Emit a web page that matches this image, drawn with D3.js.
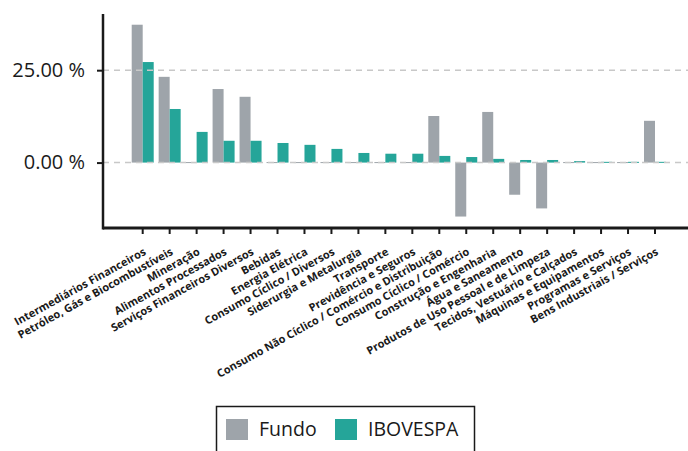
<!DOCTYPE html>
<html>
<head>
<meta charset="utf-8">
<script src="https://cdn.jsdelivr.net/npm/d3@7"></script>
<style>
  body { margin: 0; background: #fff; }
  svg { display: block; font-family: "Open Sans", sans-serif; }
</style>
</head>
<body>
<svg id="chart" width="688" height="451"></svg>
<script>
// sectors
const categories = [
  "Intermediários Financeiros",
  "Petróleo, Gás e Biocombustíveis",
  "Mineração",
  "Alimentos Processados",
  "Serviços Financeiros Diversos",
  "Bebidas",
  "Energia Elétrica",
  "Consumo Cíclico / Diversos",
  "Siderurgia e Metalurgia",
  "Transporte",
  "Previdência e Seguros",
  "Consumo Não Cíclico / Comércio e Distribuição",
  "Consumo Cíclico / Comércio",
  "Construção e Engenharia",
  "Água e Saneamento",
  "Produtos de Uso Pessoal e de Limpeza",
  "Tecidos, Vestuário e Calçados",
  "Máquinas e Equipamentos",
  "Programas e Serviços",
  "Bens Industriais / Serviços"
];

// % values
const fundo = [37.3, 23.2, 0, 19.9, 17.8, 0, 0, 0, 0, 0, 0, 12.6, -14.6, 13.7, -8.7, -12.4, 0, 0, 0, 11.3];
const ibovespa = [27.2, 14.5, 8.3, 5.9, 5.9, 5.3, 4.8, 3.7, 2.6, 2.4, 2.4, 1.8, 1.5, 1.0, 0.7, 0.7, 0.4, 0.2, 0.2, 0.2];

const series = ["Fundo", "IBOVESPA"];
const colors = ["#9ea4aa", "#25a599"];
const yTicks = [0, 25];

const svg = d3.select("#chart");

const x = d3.scaleBand()
  .domain(categories)
  .range([131.7, 666])
  .paddingInner(0.184)
  .paddingOuter(0);

const xSub = d3.scaleBand()
  .domain(series)
  .range([0, x.bandwidth()]);

const y = d3.scaleLinear()
  .domain([-17.7, 40.2])
  .range([228, 14]);

const color = d3.scaleOrdinal().domain(series).range(colors);

const rows = categories.map((c, i) => ({ cat: c, values: [fundo[i], ibovespa[i]] }));

// bars
const groups = svg.append("g")
  .selectAll("g")
  .data(rows)
  .join("g")
  .attr("transform", d => `translate(${x(d.cat)},0)`);

groups.selectAll("rect")
  .data(d => d.values.map((v, j) => ({ key: series[j], v })))
  .join("rect")
  .attr("x", d => xSub(d.key))
  .attr("width", xSub.bandwidth())
  .attr("y", d => Math.min(y(d.v), y(0)) - (d.v === 0 ? 0.5 : 0))
  .attr("height", d => Math.max(1, Math.abs(y(d.v) - y(0))))
  .attr("fill", d => color(d.key));

// gridlines
svg.append("g")
  .selectAll("line")
  .data(yTicks)
  .join("line")
  .attr("x1", 103)
  .attr("x2", 688)
  .attr("y1", d => y(d))
  .attr("y2", d => y(d))
  .attr("stroke", "#c8c8c8")
  .attr("stroke-width", 1.5)
  .attr("stroke-dasharray", "6,5");

// y axis
const yAxis = svg.append("g")
  .attr("transform", "translate(103,0)")
  .call(d3.axisLeft(y).tickValues(yTicks).tickSize(6).tickSizeOuter(0)
    .tickFormat(d => d3.format(".2f")(d) + " %"));
yAxis.select(".domain").remove();
yAxis.append("line")
  .attr("y1", y.range()[1])
  .attr("y2", y.range()[0] + 1.5)
  .attr("stroke", "#1a1a1a")
  .attr("stroke-width", 2.5);
yAxis.selectAll(".tick line").attr("stroke", "#1a1a1a").attr("stroke-width", 2);
yAxis.selectAll(".tick text")
  .attr("x", -18)
  .attr("fill", "#1a1a1a")
  .style("font-size", "20px")
  .style("font-family", "Open Sans, sans-serif");

// x axis
const xAxis = svg.append("g")
  .attr("transform", "translate(0,228)");
xAxis.append("line")
  .attr("x1", 103)
  .attr("x2", 688)
  .attr("stroke", "#1a1a1a")
  .attr("stroke-width", 2.8);
xAxis.selectAll("line.tick")
  .data(categories)
  .join("line")
  .attr("class", "tick")
  .attr("x1", d => x(d) + x.bandwidth() / 2)
  .attr("x2", d => x(d) + x.bandwidth() / 2)
  .attr("y1", 0)
  .attr("y2", 6)
  .attr("stroke", "#1a1a1a")
  .attr("stroke-width", 2);
xAxis.selectAll("text")
  .data(categories)
  .join("text")
  .attr("transform", d => `translate(${x(d) + x.bandwidth() / 2 + 4},26) rotate(-29)`)
  .attr("text-anchor", "end")
  .attr("fill", "#1a1a1a")
  .style("font-size", "11px")
  .style("font-weight", 700)
  .text(d => d);

// legend
const legend = svg.append("g");
legend.append("rect")
  .attr("x", 216.5)
  .attr("y", 406.5)
  .attr("width", 258)
  .attr("height", 60)
  .attr("fill", "none")
  .attr("stroke", "#1a1a1a")
  .attr("stroke-width", 1.5);
const legendX = [226, 335];
const items = legend.selectAll("g.item")
  .data(series)
  .join("g")
  .attr("class", "item")
  .attr("transform", (d, i) => `translate(${legendX[i]},419)`);
items.append("rect")
  .attr("width", 22)
  .attr("height", 21)
  .attr("fill", d => color(d));
items.append("text")
  .attr("x", 33)
  .attr("y", 17)
  .attr("fill", "#1a1a1a")
  .style("font-size", "19.5px")
  .text(d => d);
</script>
</body>
</html>
